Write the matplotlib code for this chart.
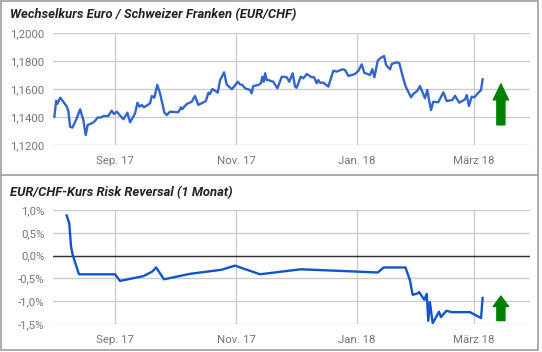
import pandas as pd
import matplotlib.pyplot as plt
from matplotlib.ticker import FuncFormatter
from matplotlib.patches import Rectangle
from matplotlib.lines import Line2D

plt.rcParams['font.family'] = ['Roboto', 'DejaVu Sans']

# EUR/CHF, Tage ab 01.08.2017
chf_days = [0.4, 1.3, 1.9, 3.3, 4.9, 6.7, 7.5, 8.3, 9.5, 11.7, 13.4, 15.0, 16.2, 17.2, 19.3,
            20.9, 22.1, 24.3, 25.1, 27.6, 29.3, 30.5, 31.9, 35.2, 37.2, 38.6, 41.1, 42.3, 43.3,
            44.5, 45.6, 48.7, 49.5, 50.8, 52.3, 53.7, 55.9, 57.1, 58.7, 62.9, 64.3, 64.9, 67.2,
            69.7, 71.3, 73.0, 75.5, 76.8, 78.1, 78.9, 80.1, 81.4, 82.8, 84.0, 86.0, 87.3, 89.9,
            92.9, 94.0, 95.2, 96.6, 99.1, 99.9, 100.7, 103.3, 104.6, 105.3, 106.0, 106.7, 107.5,
            108.3, 110.8, 112.9, 115.1, 117.6, 118.9, 120.6, 121.8, 122.6, 124.7, 126.0, 127.7,
            130.2, 131.4, 132.7, 133.5, 134.4, 136.1, 138.6, 141.1, 142.8, 145.8, 147.0, 148.7,
            152.0, 153.7, 155.4, 156.7, 159.6, 160.8, 161.8, 163.5, 164.7, 166.7, 167.7, 169.7,
            170.6, 173.1, 174.4, 175.9, 177.6, 180.3, 181.4, 183.5, 184.8, 187.3, 188.5, 189.4,
            190.4, 191.5, 194.0, 196.6, 198.3, 201.1, 202.5, 204.6, 207.5, 208.4, 209.5, 210.9,
            212.2, 215.6, 216.4]
chf_vals = [1.1402, 1.1516, 1.1493, 1.1538, 1.1509, 1.1474, 1.1438, 1.1331, 1.1324, 1.1391,
            1.1455, 1.1379, 1.1271, 1.1343, 1.1355, 1.1371, 1.1395, 1.1398, 1.1407, 1.1407,
            1.1445, 1.1421, 1.1438, 1.1384, 1.1431, 1.1362, 1.1426, 1.1502, 1.1474, 1.1486,
            1.1469, 1.1498, 1.1550, 1.1538, 1.1629, 1.1569, 1.1431, 1.1414, 1.1438, 1.1434,
            1.1469, 1.1457, 1.1493, 1.1509, 1.1550, 1.1486, 1.1505, 1.1514, 1.1574, 1.1564,
            1.1600, 1.1588, 1.1574, 1.1664, 1.1719, 1.1633, 1.1598, 1.1652, 1.1633, 1.1629,
            1.1605, 1.1593, 1.1569, 1.1621, 1.1629, 1.1641, 1.1688, 1.1652, 1.1712, 1.1664,
            1.1664, 1.1652, 1.1605, 1.1688, 1.1684, 1.1652, 1.1712, 1.1617, 1.1609, 1.1688,
            1.1676, 1.1707, 1.1684, 1.1684, 1.1641, 1.1664, 1.1645, 1.1645, 1.1617, 1.1731,
            1.1724, 1.1741, 1.1736, 1.1693, 1.1707, 1.1729, 1.1776, 1.1716, 1.1700, 1.1741,
            1.1684, 1.1802, 1.1819, 1.1836, 1.1771, 1.1741, 1.1779, 1.1791, 1.1784, 1.1700,
            1.1617, 1.1541, 1.1564, 1.1588, 1.1621, 1.1534, 1.1593, 1.1521, 1.1450, 1.1509,
            1.1505, 1.1576, 1.1514, 1.1521, 1.1552, 1.1502, 1.1526, 1.1557, 1.1479, 1.1545,
            1.1541, 1.1593, 1.1669]

# Risk Reversal 1 Monat in %
rr_days = [6.6, 7.9, 8.8, 9.6, 12.8, 31.0, 33.5, 45.3, 49.8, 51.7, 55.7, 68.8, 84.8, 91.5,
           104.1, 124.7, 163.5, 166.5, 177.5, 179.8, 181.1, 183.6, 184.4, 185.6, 187.0, 188.2,
           189.0, 189.8, 191.2, 192.4, 194.4, 195.4, 196.5, 198.2, 200.8, 210.0, 215.6, 216.4]
rr_vals = [0.88, 0.71, 0.20, 0.02, -0.41, -0.41, -0.555, -0.45, -0.35, -0.26, -0.52, -0.40,
           -0.31, -0.22, -0.41, -0.30, -0.37, -0.26, -0.26, -0.55, -0.86, -0.83, -0.80, -0.88,
           -0.97, -0.84, -1.43, -1.02, -1.48, -1.39, -1.23, -1.35, -1.29, -1.21, -1.24, -1.24,
           -1.37, -0.93]

tick_dates = ['2017-09-01', '2017-11-01', '2018-01-01', '2018-03-01']
tick_labels = ['Sep. 17', 'Nov. 17', 'Jan. 18', 'März 18']
chf_ticks = [1.12, 1.14, 1.16, 1.18, 1.20]
rr_ticks = [-1.5, -1.0, -0.5, 0.0, 0.5, 1.0]

start = pd.Timestamp('2017-08-01')
chf_x = start + pd.to_timedelta(chf_days, unit='D')
rr_x = start + pd.to_timedelta(rr_days, unit='D')
xlim = (start - pd.Timedelta(hours=7), start + pd.Timedelta(days=240.3))

W, H = 542, 352
fig = plt.figure(figsize=(W / 100, H / 100), dpi=100)
ax1 = fig.add_axes([53 / W, 1 - 145 / H, 477 / W, 112 / H])
ax2 = fig.add_axes([53 / W, 1 - 324 / H, 477 / W, 114 / H])

grey = '#cccccc'
label_col = '#757575'


def style(ax):
    for s in ax.spines.values():
        s.set_visible(False)
    ax.grid(True, color=grey, lw=1)
    ax.set_axisbelow(True)
    ax.tick_params(length=0, labelsize=8.2, colors=label_col, pad=6)
    ax.tick_params(axis='x', pad=8)
    ax.set_xlim(xlim)
    ax.set_xticks(pd.to_datetime(tick_dates))
    ax.set_xticklabels(tick_labels)


style(ax1)
ax1.plot(chf_x, chf_vals, color='#3366cc', lw=1.7)
ax1.set_ylim(1.12, 1.20)
ax1.set_yticks(chf_ticks)
ax1.yaxis.set_major_formatter(FuncFormatter(lambda v, p: f'{v:.4f}'.replace('.', ',')))

style(ax2)
ax2.axhline(0, color='#333333', lw=1)
ax2.plot(rr_x, rr_vals, color='#1155cc', lw=1.7)
ax2.set_ylim(-1.5, 1.0)
ax2.set_yticks(rr_ticks)
ax2.yaxis.set_major_formatter(FuncFormatter(lambda v, p: f'{v:.1f}%'.replace('.', ',')))

# gruene Pfeile
for ax, y0, y1, hl in [(ax1, 0.18, 0.545, 11.5), (ax2, 0.03, 0.245, 7.5)]:
    ax.annotate('', xy=(0.939, y1), xytext=(0.939, y0), xycoords='axes fraction',
                arrowprops=dict(arrowstyle=f'simple,head_width=11,head_length={hl},tail_width=5.8',
                                color='#008000', mutation_scale=1, shrinkA=0, shrinkB=0))

title_kw = dict(fontsize=9.4, fontweight='bold', fontstyle='italic', color='#222222',
                ha='left', va='baseline')
fig.text(10 / W, 1 - 18 / H, 'Wechselkurs Euro / Schweizer Franken (EUR/CHF)', **title_kw)
fig.text(10 / W, 1 - 196 / H, 'EUR/CHF-Kurs Risk Reversal (1 Monat)', **title_kw)

# Rahmen
fig.patches.append(Rectangle((0.5 / W, 1 - 350 / H), 537.5 / W, 349.5 / H, fill=False,
                             edgecolor='#9e9e9e', lw=1.2, transform=fig.transFigure))
fig.lines.append(Line2D([0, 538 / W], [1 - 175 / H, 1 - 175 / H], color='#9e9e9e', lw=1.2,
                        transform=fig.transFigure))

fig.savefig('out.png', dpi=100, facecolor='white')
